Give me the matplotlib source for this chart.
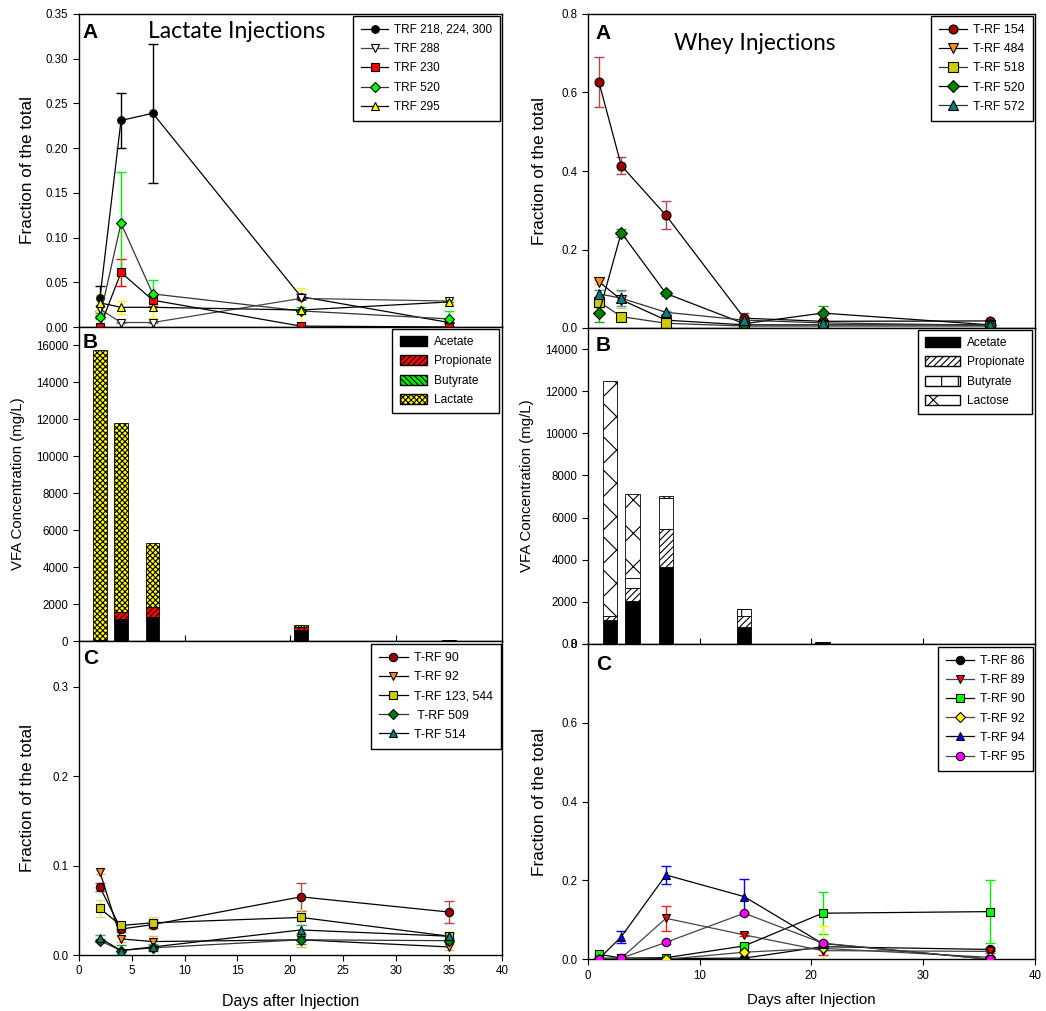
import matplotlib
matplotlib.use("Agg")
import matplotlib.pyplot as plt
from matplotlib.lines import Line2D
from matplotlib.patches import Patch
from matplotlib.ticker import FormatStrFormatter, MultipleLocator

plt.rcParams['font.family'] = ['Liberation Sans', 'DejaVu Sans']
plt.rcParams['hatch.linewidth'] = 0.8

# ---------------- data ----------------
days_lac = [2, 4, 7, 21, 35]
days_whey = [1, 3, 7, 14, 21, 36]
bar_days_lac = [2, 4, 7, 21, 35]
bar_days_whey = [2, 4, 7, 14, 21]

# Lactate panel A
lacA_labels = ["TRF 218, 224, 300", "TRF 288", "TRF 230", "TRF 520", "TRF 295"]
trf218 = [0.032, 0.231, 0.239, 0.034, 0.005]
trf218_err = [0.014, 0.031, 0.078, 0.003, 0.001]
trf288 = [0.020, 0.005, 0.005, 0.032, 0.029]
trf288_err = [0.004, 0.001, 0.001, 0.002, 0.001]
trf230 = [0.0, 0.061, 0.030, 0.001, 0.0]
trf230_err = [0.0, 0.015, 0.006, 0.001, 0.0]
trf520 = [0.011, 0.116, 0.037, 0.018, 0.009]
trf520_err = [0.002, 0.057, 0.015, 0.004, 0.009]
trf295 = [0.027, 0.022, 0.022, 0.019, 0.028]
trf295_err = [0.009, 0.007, 0.012, 0.025, 0.002]

# Whey panel A
wheyA_labels = ["T-RF 154", "T-RF 484", "T-RF 518", "T-RF 520", "T-RF 572"]
t154 = [0.627, 0.414, 0.287, 0.025, 0.017, 0.018]
t154_err = [0.063, 0.022, 0.036, 0.012, 0.004, 0.003]
t484 = [0.118, 0.072, 0.020, 0.008, 0.008, 0.008]
t484_err = [0.005, 0.022, 0.004, 0.002, 0.002, 0.002]
t518 = [0.067, 0.029, 0.012, 0.005, 0.005, 0.005]
t518_err = [0.015, 0.008, 0.004, 0.002, 0.002, 0.002]
t520 = [0.037, 0.243, 0.088, 0.011, 0.038, 0.008]
t520_err = [0.022, 0.010, 0.007, 0.003, 0.018, 0.003]
t572 = [0.087, 0.076, 0.040, 0.020, 0.013, 0.007]
t572_err = [0.010, 0.020, 0.004, 0.003, 0.003, 0.002]

# Lactate panel B (mg/L)
lac_acetate = [50, 1200, 1300, 600, 20]
lac_propionate = [0, 390, 550, 150, 0]
lac_butyrate = [0, 0, 0, 0, 30]
lac_lactate = [15700, 10210, 3450, 100, 0]

# Whey panel B (mg/L)
whey_acetate = [1140, 2060, 3660, 820, 60]
whey_propionate = [190, 620, 1800, 510, 0]
whey_butyrate = [0, 470, 1460, 320, 20]
whey_lactose = [11170, 3960, 96, 0, 0]

# Lactate panel C
lacC_labels = ["T-RF 90", "T-RF 92", "T-RF 123, 544", " T-RF 509", "T-RF 514"]
c90 = [0.076, 0.029, 0.034, 0.065, 0.048]
c90_err = [0.004, 0.003, 0.004, 0.016, 0.012]
c92 = [0.093, 0.018, 0.015, 0.017, 0.009]
c92_err = [0.003, 0.003, 0.006, 0.008, 0.003]
c123 = [0.052, 0.033, 0.036, 0.042, 0.021]
c123_err = [0.009, 0.004, 0.007, 0.008, 0.005]
c509 = [0.016, 0.005, 0.008, 0.017, 0.016]
c509_err = [0.002, 0.006, 0.003, 0.005, 0.002]
c514 = [0.019, 0.005, 0.009, 0.028, 0.021]
c514_err = [0.003, 0.002, 0.003, 0.006, 0.004]

# Whey panel C
wheyC_labels = ["T-RF 86", "T-RF 89", "T-RF 90", "T-RF 92", "T-RF 94", "T-RF 95"]
w86 = [0.0, 0.002, 0.002, 0.003, 0.032, 0.025]
w86_err = [0.001, 0.001, 0.001, 0.001, 0.003, 0.003]
w89 = [0.003, 0.003, 0.104, 0.062, 0.022, 0.020]
w89_err = [0.002, 0.002, 0.031, 0.004, 0.012, 0.004]
w90 = [0.013, 0.003, 0.004, 0.034, 0.117, 0.121]
w90_err = [0.003, 0.002, 0.002, 0.004, 0.053, 0.080]
w92 = [0.001, 0.002, 0.0, 0.018, 0.028, 0.005]
w92_err = [0.0, 0.0, 0.0, 0.003, 0.057, 0.003]
w94 = [0.001, 0.057, 0.214, 0.159, 0.040, 0.0]
w94_err = [0.0, 0.015, 0.022, 0.044, 0.003, 0.0]
w95 = [0.002, 0.003, 0.043, 0.117, 0.041, 0.0]
w95_err = [0.001, 0.001, 0.003, 0.004, 0.003, 0.0]

# ---------------- figure ----------------
W, H = 1046, 1011
fig = plt.figure(figsize=(W / 100, H / 100), dpi=100)


def axes_px(x0, x1, y0, y1):
    return fig.add_axes([x0 / W, 1 - y1 / H, (x1 - x0) / W, (y1 - y0) / H])


axLA = axes_px(78.7, 502, 14, 327)
axLB = axes_px(78.7, 502, 327, 641)
axLC = axes_px(78.7, 502, 641, 955)
axRA = axes_px(587.7, 1035, 14, 328)
axRB = axes_px(587.7, 1035, 328, 644)
axRC = axes_px(587.7, 1035, 644, 959.3)

TICK_FS = 8.3
for ax in [axLA, axLB, axLC, axRA, axRB, axRC]:
    ax.set_xlim(0, 40)
    for s in ax.spines.values():
        s.set_linewidth(1.0)
    ax.tick_params(labelsize=TICK_FS, direction='out', length=4, width=0.8)


def line_series(ax, x, y, err, label, marker, mfc, ecol, lcol='black', ms=5.5, mec='black'):
    ax.errorbar(x, y, yerr=err, fmt='none', ecolor=ecol, elinewidth=1.0,
                capsize=3.5, capthick=1.0, zorder=2)
    ax.plot(x, y, color=lcol, lw=0.9, marker=marker, mfc=mfc, mec=mec,
            mew=0.8, ms=ms, zorder=3, label=label)
    return Line2D([0], [0], color=lcol, lw=0.9, marker=marker, mfc=mfc,
                  mec=mec, mew=0.8, ms=ms)


def make_legend(ax, handles, labels, fs, bbox, spacing=0.6):
    leg = ax.legend(handles, labels, loc='upper right', bbox_to_anchor=bbox,
                    bbox_transform=fig.transFigure, fontsize=fs,
                    frameon=True, fancybox=False, framealpha=1,
                    edgecolor='black', handlelength=2.3, handletextpad=0.5,
                    labelspacing=spacing, borderpad=0.65, borderaxespad=0)
    leg.get_frame().set_linewidth(1.0)
    leg.set_zorder(10)
    return leg


def fig_pt(xpx, ypx):
    return (xpx / W, 1 - ypx / H)


# ---- Left A ----
ax = axLA
hs = []
hs.append(line_series(ax, days_lac, trf218, trf218_err, lacA_labels[0], 'o', 'black', 'black'))
hs.append(line_series(ax, days_lac, trf288, trf288_err, lacA_labels[1], 'v', 'white', 'gray', lcol='#444444'))
hs.append(line_series(ax, days_lac, trf230, trf230_err, lacA_labels[2], 's', '#ff0000', '#ff0000'))
hs.append(line_series(ax, days_lac, trf520, trf520_err, lacA_labels[3], 'D', '#00ff00', '#00ee00', lcol='#333333', ms=5))
hs.append(line_series(ax, days_lac, trf295, trf295_err, lacA_labels[4], '^', '#ffff00', '#ffff00'))
ax.set_ylim(0, 0.35)
ax.yaxis.set_major_locator(MultipleLocator(0.05))
ax.yaxis.set_major_formatter(FormatStrFormatter('%.2f'))
ax.tick_params(axis='x', bottom=False, labelbottom=False)
ax.set_ylabel("Fraction of the total", fontsize=12.4, labelpad=8)
make_legend(ax, hs, lacA_labels, 8.5, fig_pt(500, 16), spacing=0.62)
ax.text(0.01, 0.972, "A", transform=ax.transAxes, fontsize=15, fontweight='bold', va='top', ha='left')
ax.text(148 / W, 1 - 32 / H, "Lactate Injections", transform=fig.transFigure,
        fontsize=16.5, family=['Lato', 'DejaVu Sans'], va='center', ha='left')

# ---- Right A ----
ax = axRA
hs = []
hs.append(line_series(ax, days_whey, t154, t154_err, wheyA_labels[0], 'o', '#990000', '#b04848', ms=6.5))
hs.append(line_series(ax, days_whey, t484, t484_err, wheyA_labels[1], 'v', '#ff8c1a', '#ffb060', ms=6.5))
hs.append(line_series(ax, days_whey, t518, t518_err, wheyA_labels[2], 's', '#cccc00', '#e0e070', lcol='#333333', ms=6.5))
hs.append(line_series(ax, days_whey, t520, t520_err, wheyA_labels[3], 'D', '#008000', '#20a020', ms=5.8))
hs.append(line_series(ax, days_whey, t572, t572_err, wheyA_labels[4], '^', '#008080', '#40a0a0', lcol='#333333', ms=6.5))
ax.set_ylim(0, 0.8)
ax.yaxis.set_major_locator(MultipleLocator(0.2))
ax.yaxis.set_major_formatter(FormatStrFormatter('%.1f'))
ax.tick_params(axis='x', bottom=False, labelbottom=False)
ax.set_ylabel("Fraction of the total", fontsize=12.4, labelpad=10)
make_legend(ax, hs, wheyA_labels, 8.9, fig_pt(1032.7, 16), spacing=0.58)
ax.text(0.018, 0.968, "A", transform=ax.transAxes, fontsize=15, fontweight='bold', va='top', ha='left')
ax.text(674 / W, 1 - 44 / H, "Whey Injections", transform=fig.transFigure,
        fontsize=16.3, family=['Lato', 'DejaVu Sans'], va='center', ha='left')

# ---- Left B ----
ax = axLB
bw = 1.27
b1 = [a + p for a, p in zip(lac_acetate, lac_propionate)]
b2 = [v + b for v, b in zip(b1, lac_butyrate)]
ax.bar(bar_days_lac, lac_acetate, width=bw, color='black', edgecolor='black', lw=0.6)
ax.bar(bar_days_lac, lac_propionate, bottom=lac_acetate, width=bw, color='#ff0000', edgecolor='black', hatch='//////', lw=0.6)
ax.bar(bar_days_lac, lac_butyrate, bottom=b1, width=bw, color='#00ee00', edgecolor='black', hatch='\\\\\\\\\\\\', lw=0.6)
ax.bar(bar_days_lac, lac_lactate, bottom=b2, width=bw, color='#ffff00', edgecolor='black', hatch='xxxxxx', lw=0.6)
ax.set_ylim(0, 17000)
ax.yaxis.set_major_locator(MultipleLocator(2000))
ax.set_xticks([10, 20, 30])
ax.tick_params(axis='x', direction='in', labelbottom=False, length=4)
ax.set_ylabel("VFA Concentration (mg/L)", fontsize=10.8, labelpad=8)
ph = [Patch(facecolor='black', edgecolor='black'),
      Patch(facecolor='#ff0000', edgecolor='black', hatch='//////'),
      Patch(facecolor='#00ee00', edgecolor='black', hatch='\\\\\\\\\\\\'),
      Patch(facecolor='#ffff00', edgecolor='black', hatch='xxxxxx')]
leg = ax.legend(ph, ["Acetate", "Propionate", "Butyrate", "Lactate"], loc='upper right',
                bbox_to_anchor=fig_pt(499, 329), bbox_transform=fig.transFigure,
                fontsize=8.6, frameon=True, fancybox=False, framealpha=1, edgecolor='black',
                handlelength=2.3, handleheight=0.9, handletextpad=0.6, labelspacing=0.6,
                borderpad=0.6, borderaxespad=0)
leg.get_frame().set_linewidth(1.0)
ax.text(0.01, 0.98, "B", transform=ax.transAxes, fontsize=15, fontweight='bold', va='top', ha='left')

# ---- Right B ----
ax = axRB
c1 = [a + p for a, p in zip(whey_acetate, whey_propionate)]
c2 = [v + b for v, b in zip(c1, whey_butyrate)]
ax.bar(bar_days_whey, whey_acetate, width=bw, color='black', edgecolor='black', lw=0.6)
ax.bar(bar_days_whey, whey_propionate, bottom=whey_acetate, width=bw, color='white', edgecolor='black', hatch='/////', lw=0.6)
ax.bar(bar_days_whey, whey_butyrate, bottom=c1, width=bw, color='white', edgecolor='black', hatch='|', lw=0.6)
ax.bar(bar_days_whey, whey_lactose, bottom=c2, width=bw, color='white', edgecolor='black', hatch='x', lw=0.6)
ax.set_ylim(0, 15000)
ax.set_yticks(range(0, 15000, 2000))
ax.set_xticks([10, 20, 30])
ax.tick_params(axis='x', direction='in', labelbottom=False, length=4)
ax.set_ylabel("VFA Concentration (mg/L)", fontsize=10.8, labelpad=8)
ph = [Patch(facecolor='black', edgecolor='black'),
      Patch(facecolor='white', edgecolor='black', hatch='/////'),
      Patch(facecolor='white', edgecolor='black', hatch='|'),
      Patch(facecolor='white', edgecolor='black', hatch='x')]
leg = ax.legend(ph, ["Acetate", "Propionate", "Butyrate", "Lactose"], loc='upper right',
                bbox_to_anchor=fig_pt(1032, 330), bbox_transform=fig.transFigure,
                fontsize=8.6, frameon=True, fancybox=False, framealpha=1, edgecolor='black',
                handlelength=2.9, handleheight=0.9, handletextpad=0.6, labelspacing=0.6,
                borderpad=0.6, borderaxespad=0)
leg.get_frame().set_linewidth(1.0)
ax.text(0.018, 0.975, "B", transform=ax.transAxes, fontsize=15, fontweight='bold', va='top', ha='left')

# ---- Left C ----
ax = axLC
hs = []
hs.append(line_series(ax, days_lac, c90, c90_err, lacC_labels[0], 'o', '#990000', '#b04848', ms=6))
hs.append(line_series(ax, days_lac, c92, c92_err, lacC_labels[1], 'v', '#ff8c1a', '#ffb060', ms=6))
hs.append(line_series(ax, days_lac, c123, c123_err, lacC_labels[2], 's', '#cccc00', '#e0e070', ms=6))
hs.append(line_series(ax, days_lac, c509, c509_err, lacC_labels[3], 'D', '#008000', '#20a020', lcol='#333333', ms=5.5))
hs.append(line_series(ax, days_lac, c514, c514_err, lacC_labels[4], '^', '#008080', '#40a0a0', ms=6))
ax.set_ylim(0, 0.351)
ax.set_yticks([0.0, 0.1, 0.2, 0.3])
ax.yaxis.set_major_formatter(FormatStrFormatter('%.1f'))
ax.xaxis.set_major_locator(MultipleLocator(5))
ax.set_xlabel("Days after Injection", fontsize=11.5, labelpad=12)
ax.set_ylabel("Fraction of the total", fontsize=12.4, labelpad=12)
make_legend(ax, hs, lacC_labels, 8.9, fig_pt(500.7, 644), spacing=0.58)
ax.text(0.01, 0.975, "C", transform=ax.transAxes, fontsize=15, fontweight='bold', va='top', ha='left')

# ---- Right C ----
ax = axRC
hs = []
hs.append(line_series(ax, days_whey, w86, w86_err, wheyC_labels[0], 'o', 'black', 'black', ms=6))
hs.append(line_series(ax, days_whey, w89, w89_err, wheyC_labels[1], 'v', '#ff0000', '#ff2020', lcol='#444444', ms=6))
hs.append(line_series(ax, days_whey, w90, w90_err, wheyC_labels[2], 's', '#00ff00', '#00ee00', ms=6))
hs.append(line_series(ax, days_whey, w92, w92_err, wheyC_labels[3], 'D', '#ffff00', '#ffff00', lcol='#444444', ms=5.5))
hs.append(line_series(ax, days_whey, w94, w94_err, wheyC_labels[4], '^', '#0000ff', '#0000ff', ms=6))
hs.append(line_series(ax, days_whey, w95, w95_err, wheyC_labels[5], 'o', '#ff00ff', '#ff00ff', lcol='#444444', ms=6))
ax.set_ylim(0, 0.8)
ax.yaxis.set_major_locator(MultipleLocator(0.2))
ax.yaxis.set_major_formatter(FormatStrFormatter('%.1f'))
ax.xaxis.set_major_locator(MultipleLocator(10))
ax.set_xlabel("Days after Injection", fontsize=10.8, labelpad=8)
ax.set_ylabel("Fraction of the total", fontsize=12.4, labelpad=10)
make_legend(ax, hs, wheyC_labels, 8.9, fig_pt(1033, 647), spacing=0.58)
ax.text(0.018, 0.965, "C", transform=ax.transAxes, fontsize=15, fontweight='bold', va='top', ha='left')

fig.savefig("out.png", dpi=100)
